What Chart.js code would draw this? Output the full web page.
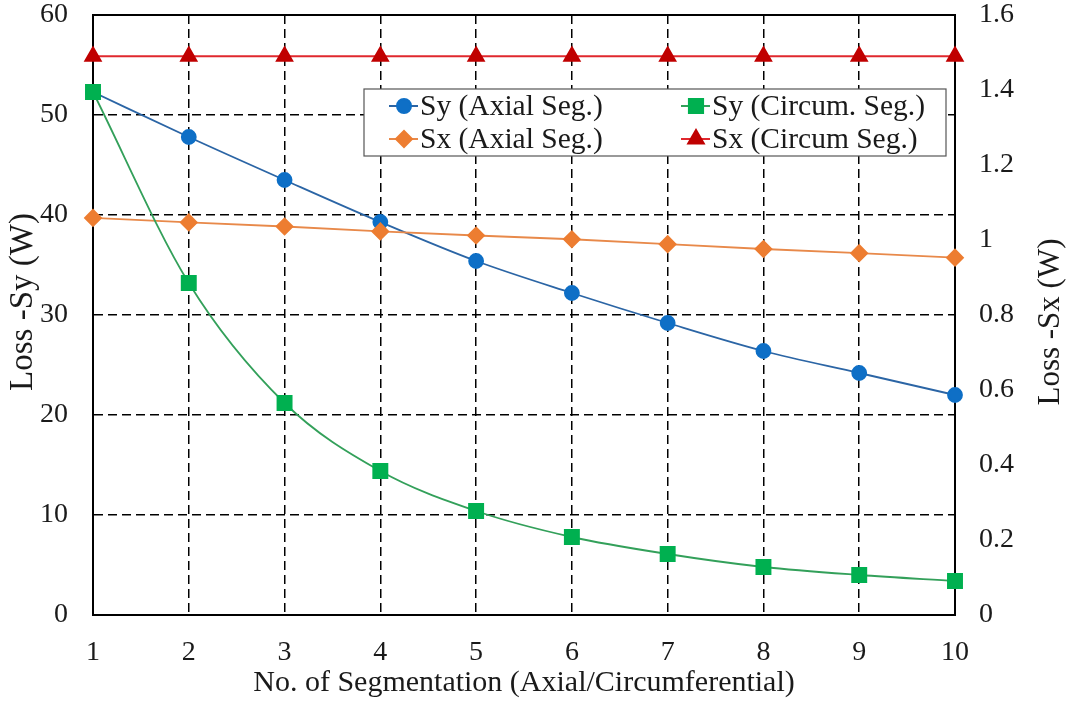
<!DOCTYPE html>
<html>
<head>
<meta charset="utf-8">
<title>Loss vs segmentation</title>
<script src="https://cdn.jsdelivr.net/npm/chart.js@4.4.1/dist/chart.umd.min.js"></script>
<style>
  html, body { margin: 0; padding: 0; background: #fff; }
  canvas { display: block; }
</style>
</head>
<body>
<canvas id="lossChart" width="1075" height="704"></canvas>
<script>
// number of segments on the x axis
const segments = ["1", "2", "3", "4", "5", "6", "7", "8", "9", "10"];

// loss in the y direction (left axis, W)
const syAxial = [52.3, 47.8, 43.5, 39.3, 35.4, 32.2, 29.2, 26.4, 24.2, 22.0];
const syCircum = [52.3, 33.2, 21.2, 14.4, 10.4, 7.8, 6.1, 4.8, 4.0, 3.4];

// loss in the x direction (right axis, W)
const sxAxial = [1.059, 1.047, 1.036, 1.023, 1.012, 1.002, 0.989, 0.976, 0.965, 0.953];
const sxCircum = [1.49, 1.49, 1.49, 1.49, 1.49, 1.49, 1.49, 1.49, 1.49, 1.49];

const serif = "'Liberation Serif', 'Times New Roman', serif";
const tickFont = { family: serif, size: 28 };
const textColor = "#1a1a1a";

// solid frame around the plot area
const frame = {
  id: "frame",
  beforeDatasetsDraw(chart) {
    const { ctx, chartArea: a } = chart;
    ctx.save();
    ctx.strokeStyle = "#000";
    ctx.lineWidth = 2;
    ctx.setLineDash([]);
    ctx.strokeRect(a.left, a.top, a.right - a.left, a.bottom - a.top);
    ctx.restore();
  }
};

// vertical axis titles, both reading bottom to top
const sideTitles = {
  id: "sideTitles",
  afterDraw(chart) {
    const { ctx, chartArea: a } = chart;
    const mid = (a.top + a.bottom) / 2;
    ctx.save();
    ctx.fillStyle = textColor;
    ctx.textAlign = "center";
    ctx.textBaseline = "middle";
    [[23, mid - 13, 33, "Loss -Sy (W)"], [chart.width - 24, mid + 7, 31, "Loss -Sx (W)"]].forEach(([x, y, size, t]) => {
      ctx.save();
      ctx.font = size + "px " + serif;
      ctx.translate(x, y);
      ctx.rotate(-Math.PI / 2);
      ctx.fillText(t, 0, 0);
      ctx.restore();
    });
    ctx.restore();
  }
};

// boxed two-column legend inside the plot
const boxLegend = {
  id: "boxLegend",
  afterDatasetsDraw(chart) {
    const { ctx, chartArea: a } = chart;
    const bx = a.left + 271, by = a.top + 74, bw = 582, bh = 67;
    ctx.save();
    ctx.setLineDash([]);
    ctx.fillStyle = "#fff";
    ctx.fillRect(bx, by, bw, bh);
    ctx.strokeStyle = "#555";
    ctx.lineWidth = 1.2;
    ctx.strokeRect(bx, by, bw, bh);

    const slots = [[0, 0], [1, 0], [0, 1], [1, 1]];
    chart.data.datasets.forEach((ds, i) => {
      const [col, row] = slots[i];
      const x0 = bx + 25 + col * 292;
      const y0 = by + 17 + row * 33;
      ctx.strokeStyle = ds.borderColor;
      ctx.lineWidth = 2;
      ctx.beginPath();
      ctx.moveTo(x0, y0);
      ctx.lineTo(x0 + 29, y0);
      ctx.stroke();
      ctx.fillStyle = ds.pointBackgroundColor;
      ctx.strokeStyle = ds.pointBorderColor;
      Chart.helpers.drawPoint(ctx, {
        pointStyle: ds.pointStyle,
        radius: ds.pointRadius,
        borderWidth: 1,
        rotation: 0
      }, x0 + 15, y0);
      ctx.fillStyle = textColor;
      ctx.font = "29.5px " + serif;
      ctx.textAlign = "left";
      ctx.textBaseline = "middle";
      ctx.fillText(ds.label, x0 + 31, y0 + 1);
    });
    ctx.restore();
  }
};

const gridStyle = { color: "#000", lineWidth: 1.5, drawTicks: false };
const borderStyle = { display: true, color: "#000", width: 2, dash: [9, 5] };

// fixed axis box sizes so the plot area sits where it should
const fitLeft = (s) => { s.width = 93; s.paddingTop = 0; s.paddingBottom = 0; };
const fitRight = (s) => { s.width = 120; s.paddingTop = 0; s.paddingBottom = 0; };

new Chart(document.getElementById("lossChart").getContext("2d"), {
  type: "line",
  data: {
    labels: segments,
    datasets: [
      {
        label: "Sy (Axial Seg.)",
        data: syAxial,
        yAxisID: "y",
        borderColor: "#2B65A5",
        borderWidth: 1.8,
        pointStyle: "circle",
        pointRadius: 7,
        pointBackgroundColor: "#0E6FC6",
        pointBorderColor: "#0E6FC6",
        cubicInterpolationMode: "monotone",
        clip: false,
        order: 3
      },
      {
        label: "Sy (Circum. Seg.)",
        data: syCircum,
        yAxisID: "y",
        borderColor: "#33A05A",
        borderWidth: 1.8,
        pointStyle: "rect",
        pointRadius: 10,
        pointBackgroundColor: "#00B050",
        pointBorderColor: "#00B050",
        cubicInterpolationMode: "monotone",
        clip: false,
        order: 1
      },
      {
        label: "Sx (Axial Seg.)",
        data: sxAxial,
        yAxisID: "y1",
        borderColor: "#E8894A",
        borderWidth: 1.8,
        pointStyle: "rectRot",
        pointRadius: 8,
        pointBackgroundColor: "#ED7D31",
        pointBorderColor: "#ED7D31",
        clip: false,
        order: 2
      },
      {
        label: "Sx (Circum Seg.)",
        data: sxCircum,
        yAxisID: "y1",
        borderColor: "#E0282E",
        borderWidth: 1.8,
        pointStyle: "triangle",
        pointRadius: 9,
        pointBackgroundColor: "#C00000",
        pointBorderColor: "#C00000",
        clip: false,
        order: 0
      }
    ]
  },
  options: {
    responsive: false,
    animation: false,
    layout: { padding: { top: 15, left: 0, right: 0, bottom: 0 } },
    plugins: { legend: { display: false }, tooltip: { enabled: false } },
    scales: {
      x: {
        offset: false,
        grid: gridStyle,
        border: borderStyle,
        ticks: { color: textColor, font: tickFont, padding: 21, maxRotation: 0, autoSkip: false },
        title: {
          display: true,
          text: "No. of Segmentation (Axial/Circumferential)",
          color: textColor,
          font: { family: serif, size: 30 },
          padding: { top: 0, bottom: 3 }
        },
        afterFit: (s) => { s.height = 89; s.paddingLeft = 0; s.paddingRight = 0; }
      },
      y: {
        position: "left",
        min: 0,
        max: 60,
        grid: gridStyle,
        border: borderStyle,
        ticks: { stepSize: 10, color: textColor, font: tickFont, padding: 25 },
        afterFit: fitLeft
      },
      y1: {
        position: "right",
        min: 0,
        max: 1.6,
        grid: { display: false, drawTicks: false },
        border: { display: true, color: "#000", width: 2 },
        ticks: {
          stepSize: 0.2,
          color: textColor,
          font: tickFont,
          padding: 24,
          callback: (v) => String(+v.toFixed(1))
        },
        afterFit: fitRight
      }
    }
  },
  plugins: [frame, boxLegend, sideTitles]
});
</script>
</body>
</html>
